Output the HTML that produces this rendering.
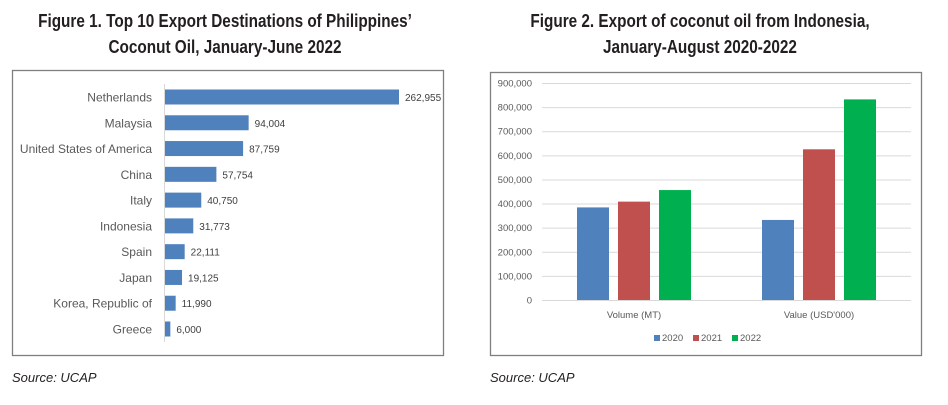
<!DOCTYPE html>
<html><head><meta charset="utf-8"><style>
body{margin:0;width:948px;height:405px;background:#fff;position:relative;overflow:hidden;font-family:"Liberation Sans",sans-serif}
.t{position:absolute;font-family:"Liberation Sans",sans-serif;font-weight:bold;font-size:18px;line-height:26px;text-align:center;color:#231f20;transform:scaleX(0.85);transform-origin:center top}
.src{position:absolute;font-style:italic;font-size:13px;color:#231f20}
</style></head><body>
<div class="t" style="left:0;width:450px;top:8px">Figure 1. Top 10 Export Destinations of Philippines’<br>Coconut Oil, January-June 2022</div>
<div class="t" style="left:475px;width:450px;top:8px">Figure 2. Export of coconut oil from Indonesia,<br>January-August 2020-2022</div>
<div class="src" style="left:12px;top:370px">Source: UCAP</div>
<div class="src" style="left:490px;top:370px">Source: UCAP</div>
<svg id="c1" width="948" height="405" style="position:absolute;left:0;top:0" font-family="Liberation Sans, sans-serif"></svg>
<script>
const countries=["Netherlands","Malaysia","United States of America","China","Italy","Indonesia","Spain","Japan","Korea, Republic of","Greece"];
const exportsVals=[262955,94004,87759,57754,40750,31773,22111,19125,11990,6000];
const groups=["Volume (MT)","Value (USD'000)"];
const years=["2020","2021","2022"];
const v2020=[384000,332000];
const v2021=[408000,625000];
const v2022=[456000,832000];
const yTicks=[0,100000,200000,300000,400000,500000,600000,700000,800000,900000];
const NS="http://www.w3.org/2000/svg";
const svg=document.getElementById('c1');
function mk(t,a,p){const e=document.createElementNS(NS,t);for(const k in a)e.setAttribute(k,a[k]);(p||svg).appendChild(e);return e;}
const fmt=v=>v.toLocaleString('en-US');
// chart 1
let f1=mk('rect',{x:12.5,y:70.5,width:431,height:285,fill:'#fff',stroke:'#7f7f7f','stroke-width':1.3});


mk('line',{x1:164.5,y1:84,x2:164.5,y2:342,stroke:'#d9d9d9'});
const x1=v=>165+v*(399-165)/262955;
const yb=i=>97+i*(329-97)/9;
countries.forEach((c,i)=>{
 let r=mk('rect',{x:165,y:yb(i)-7.5,width:x1(exportsVals[i])-165,height:15,fill:'#4f81bd'});
 
 
 let l=mk('text',{x:152,y:yb(i)+4.5,'text-anchor':'end','font-size':12,fill:'#595959'});l.textContent=c;
 
 
 let v=mk('text',{x:x1(exportsVals[i])+6,y:yb(i)+4,'font-size':10,fill:'#404040'});v.textContent=fmt(exportsVals[i]);
 
 
});
// chart 2
let f2=mk('rect',{x:490.5,y:72.5,width:431,height:283,fill:'#fff',stroke:'#7f7f7f','stroke-width':1.3});


const y2=v=>300-v*(300-83)/900000;
yTicks.forEach(t=>{
 mk('line',{x1:542,x2:911,y1:y2(t)+0.5,y2:y2(t)+0.5,stroke:'#d9d9d9'});
 let l=mk('text',{x:532,y:y2(t)+3.5,'text-anchor':'end','font-size':9.5,fill:'#595959'});l.textContent=fmt(t);
 
 
});
const series=[v2020,v2021,v2022],cols=['#4f81bd','#c0504d','#00b050'];
const gc=[634,819];
groups.forEach((g,gi)=>{
 series.forEach((s,si)=>{
  const x=gc[gi]-57+si*41;
  let r=mk('rect',{x:x,y:y2(s[gi]),width:32,height:300-y2(s[gi]),fill:cols[si]});
  
  
 });
 let l=mk('text',{x:gc[gi],y:318,'text-anchor':'middle','font-size':9.5,fill:'#595959'});l.textContent=g;
 
 
});
years.forEach((y,i)=>{
 const lx=654+i*39;
 let s=mk('rect',{x:lx,y:335,width:6,height:6,fill:cols[i]});
 
 
 let t=mk('text',{x:lx+8,y:341,'font-size':9.5,fill:'#595959'});t.textContent=y;
 
 
});
</script>
</body></html>
